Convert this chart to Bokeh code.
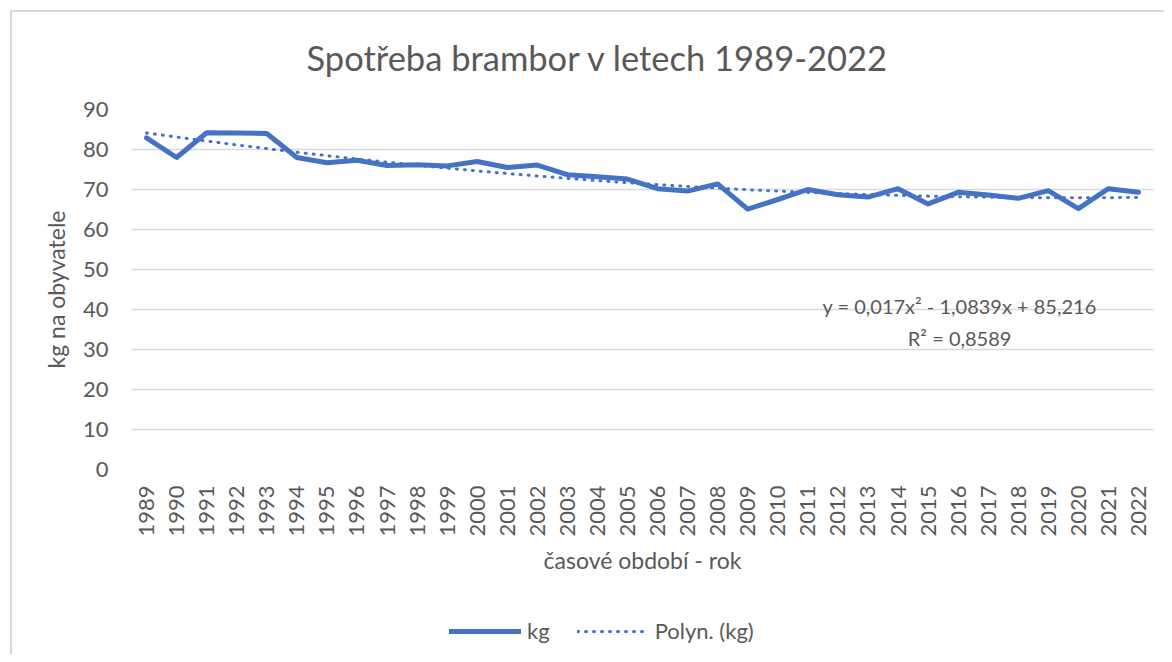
import math
from bokeh.plotting import figure
from bokeh.layouts import column
from bokeh.models import (ColumnDataSource, Label, Legend, LegendItem,
                          FactorRange)
from bokeh.embed import file_html
from bokeh.resources import INLINE

# ---- data -------------------------------------------------------------
years = [str(y) for y in range(1989, 2023)]
kg = [82.9, 78.0, 84.2, 84.1, 84.0, 78.0, 76.7, 77.3, 76.0, 76.2,
      75.9, 77.0, 75.5, 76.1, 73.7, 73.2, 72.6, 70.2, 69.6, 71.4,
      65.1, 67.5, 70.0, 68.7, 68.1, 70.2, 66.4, 69.3, 68.6, 67.8,
      69.7, 65.2, 70.2, 69.3]
# Excel polynomial trendline (as printed on the chart)
trend_coef = [0.017, -1.0839, 85.216]
trend_text = ["y = 0,017x\u00b2 - 1,0839x + 85,216", "R\u00b2 = 0,8589"]
y_ticks = [0, 10, 20, 30, 40, 50, 60, 70, 80, 90]
series_names = ["kg", "Polyn. (kg)"]
title_text = "Spotřeba brambor v letech 1989-2022"
x_title = "časové období - rok"
y_title = "kg na obyvatele"

trend = [trend_coef[0] * i * i + trend_coef[1] * i + trend_coef[2]
         for i in range(1, len(years) + 1)]

FONT = "Lato"
GRAY = "#595959"
GRID = "#d9d9d9"
BLUE = "#4472C4"
KG_STYLE = dict(line_color=BLUE, line_width=5, line_join="round", line_cap="round")
TREND_STYLE = dict(line_color=BLUE, line_width=3, line_dash="1 7", line_cap="round")

src = ColumnDataSource(dict(year=years, kg=kg, trend=trend))

p = figure(x_range=FactorRange(factors=years, range_padding=0),
           y_range=(0, 90), frame_width=1022, frame_height=360,
           output_backend="svg", toolbar_location=None,
           min_border_left=131, min_border_right=11,
           min_border_top=109, min_border_bottom=131)
p.outline_line_color = None
p.background_fill_color = "white"
p.border_fill_color = None
p.styles = {
    "background": ("linear-gradient(#d9d9d9,#d9d9d9) 10px 10px / 2px 100% no-repeat, "
                   "linear-gradient(#d9d9d9,#d9d9d9) 10px 10px / 100% 2px no-repeat, white"),
}

# title
p.title.text = title_text
p.title.align = "left"
p.title.offset = 175
p.title.text_font = FONT
p.title.text_font_size = "34.5px"
p.title.text_font_style = "normal"
p.title.text_color = GRAY
p.title.standoff = 64

# grid
p.xgrid.grid_line_color = None
p.ygrid.grid_line_color = GRID
p.ygrid.grid_line_width = 1.5
p.yaxis.ticker = y_ticks

# axes
for ax in (p.xaxis[0], p.yaxis[0]):
    ax.axis_line_color = None
    ax.major_tick_line_color = None
    ax.minor_tick_line_color = None
    ax.major_tick_out = 0
    ax.major_tick_in = 0
    ax.major_label_text_font = FONT
    ax.major_label_text_font_size = "22px"
    ax.major_label_text_color = GRAY
    ax.axis_label_text_font = FONT
    ax.axis_label_text_font_size = "23px"
    ax.axis_label_text_color = GRAY
    ax.axis_label_text_font_style = "normal"

p.yaxis.major_label_standoff = 23
p.yaxis.axis_label = y_title
p.yaxis.axis_label_standoff = 10
p.xaxis.major_label_orientation = math.pi / 2
p.xaxis.major_label_standoff = 16
p.xaxis.axis_label = x_title
p.xaxis.axis_label_standoff = 6

# series
r_trend = p.line("year", "trend", source=src, **TREND_STYLE)
r_kg = p.line("year", "kg", source=src, **KG_STYLE)

# trendline equation
p.add_layout(Label(x=27.55, y=41.0, text=trend_text[0], text_align="center",
                   text_baseline="middle", text_font=FONT,
                   text_font_size="20px", text_color=GRAY))
p.add_layout(Label(x=27.55, y=33.0, text=trend_text[1], text_align="center",
                   text_baseline="middle", text_font=FONT,
                   text_font_size="20px", text_color=GRAY))

# legend strip (bottom of the chart area)
q = figure(width=1164, height=54, output_backend="svg", toolbar_location=None,
           x_axis_type=None, y_axis_type=None, min_border=0,
           x_range=(0, 1), y_range=(0, 1))
q.outline_line_color = None
q.background_fill_color = None
q.border_fill_color = None
q.styles = {
    "background": ("linear-gradient(#d9d9d9,#d9d9d9) 10px 0px / 2px 100% no-repeat, white"),
}
# legend-only proxies (kept outside the strip's visible range)
l_kg = q.line(x=[-10, -9], y=[-10, -9], **KG_STYLE)
l_trend = q.line(x=[-10, -9], y=[-10, -9], **TREND_STYLE)
legend = Legend(items=[LegendItem(label=series_names[0], renderers=[l_kg]),
                       LegendItem(label=series_names[1], renderers=[l_trend])],
                orientation="horizontal", location=(318, 10),
                glyph_width=72, glyph_height=20, label_standoff=6,
                spacing=27, padding=0, margin=0,
                border_line_color=None, background_fill_alpha=0,
                label_text_font=FONT, label_text_font_size="22px",
                label_text_color=GRAY)
q.add_layout(legend, "center")

layout = column(p, q, spacing=0)
open("out.html", "w").write(file_html(layout, INLINE))
